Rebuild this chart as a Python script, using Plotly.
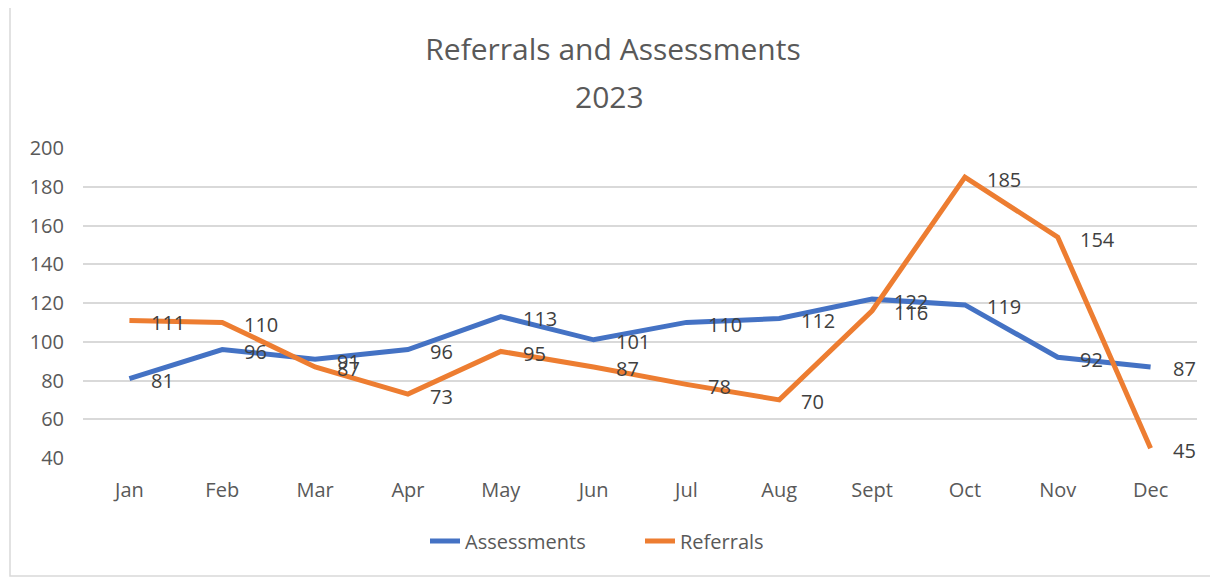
import plotly.graph_objects as go

months = ["Jan", "Feb", "Mar", "Apr", "May", "Jun", "Jul", "Aug", "Sept", "Oct", "Nov", "Dec"]
assessments = [81, 96, 91, 96, 113, 101, 110, 112, 122, 119, 92, 87]
referrals = [111, 110, 87, 73, 95, 87, 78, 70, 116, 185, 154, 45]
title_line1 = "Referrals and Assessments"
title_line2 = "2023"

FONT = "Open Sans"
O = 8  # page body margin offset
W, H = 1218 - O, 578 - O
# screen coordinates of plot area
SL, SR, ST, SB = 83, 1197, 148, 458
L, T = SL - O, ST - O
R, B = W - (SR - O), H - (SB - O)
pw, ph = W - L - R, H - T - B
def px(x): return (x - SL) / pw
def py(y): return (SB - y) / ph

fig = go.Figure()
fig.add_trace(go.Scatter(x=months, y=assessments, name="Assessments", mode="lines",
                         line=dict(color="#4472C4", width=5)))
fig.add_trace(go.Scatter(x=months, y=referrals, name="Referrals", mode="lines",
                         line=dict(color="#ED7D31", width=5)))

annots = []
for series in (assessments, referrals):
    for m, v in zip(months, series):
        annots.append(dict(x=m, y=v, text=str(v), showarrow=False, xanchor="left",
                           yanchor="middle", xshift=20, yshift=-2,
                           font=dict(family=FONT, size=20, color="#404040")))
annots.append(dict(xref="paper", yref="paper", x=0.5 + (SL + SR - 1218) / 2 / pw * -1 * 0 + (609 - (SL + SR) / 2) / pw,
                   y=py(96), text=title_line2, showarrow=False, xanchor="center", yanchor="middle",
                   font=dict(family=FONT, size=30, color="#595959")))

fig.update_layout(
    width=W, height=H,
    margin=dict(l=L, r=R, t=T, b=B, autoexpand=False),
    paper_bgcolor="white", plot_bgcolor="white",
    title=dict(text=title_line1, x=0.5, xanchor="center",
               y=1 - (49 - O) / H, yanchor="middle",
               font=dict(family=FONT, size=30, color="#595959")),
    xaxis=dict(type="category", range=[-0.5, 11.5], showgrid=False, showline=False, ticks="",
               ticklabelstandoff=18,
               tickfont=dict(family=FONT, size=20, color="#595959")),
    yaxis=dict(range=[40, 200], dtick=20, showgrid=True, gridcolor="#D9D9D9", gridwidth=2,
               zeroline=False, ticks="", ticklabelstandoff=18,
               tickfont=dict(family=FONT, size=20, color="#595959")),
    legend=dict(orientation="h", x=0.5, xanchor="center", y=py(541), yanchor="middle",
                font=dict(family=FONT, size=20, color="#595959"), entrywidth=170),
    annotations=annots,
    shapes=[dict(type="rect", xref="paper", yref="paper",
                 x0=px(10), x1=px(1216), y0=py(576), y1=py(4),
                 line=dict(color="#D9D9D9", width=1.5), fillcolor="rgba(0,0,0,0)", layer="below")],
)
fig.write_html("out.html")
